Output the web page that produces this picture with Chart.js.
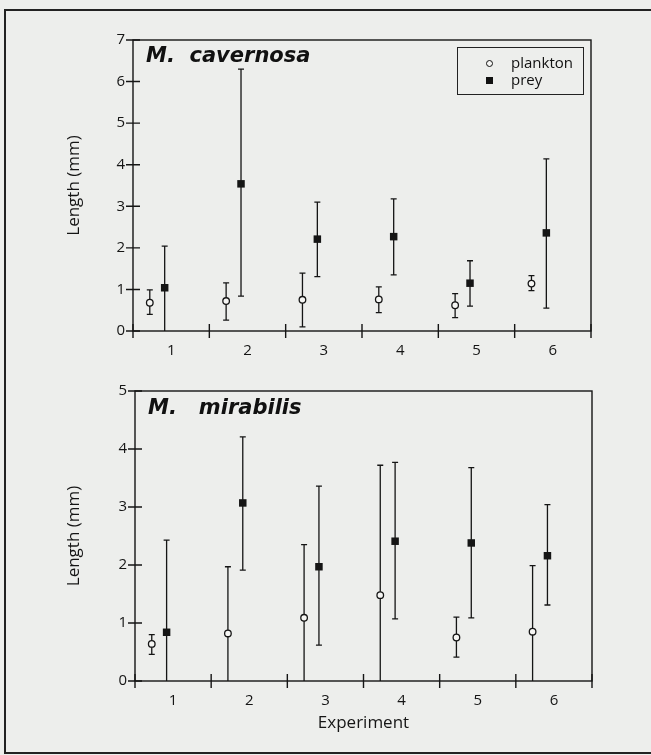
<!DOCTYPE html>
<html>
<head>
<meta charset="utf-8">
<script src="https://cdn.jsdelivr.net/npm/chart.js@4.4.0/dist/chart.umd.min.js"></script>
<style>
  body { margin: 0; background: #edeeec; font-family: "Open Sans", sans-serif; }
  #page { position: relative; width: 651px; height: 755px; overflow: hidden; }
  #frame { position: absolute; left: 4px; top: 9px; width: 700px; height: 741px;
           border-left: 2px solid #222; border-top: 2px solid #222; border-bottom: 2px solid #222; }
  canvas { position: absolute; left: 0; }
  #topChart { top: 0; }
  #bottomChart { top: 370px; }
  .panel { position: absolute; font-family: "DejaVu Sans", sans-serif; font-weight: bold;
           font-style: italic; font-size: 21px; color: #111; white-space: pre; }
  #legend { position: absolute; left: 457px; top: 47px; width: 125px; height: 46px;
            border: 1px solid #222; font-size: 15px; color: #111; }
  #legend .row { position: absolute; left: 53px; line-height: 17px; }
  #legend .mk { position: absolute; box-sizing: border-box; }
</style>
</head>
<body>
<div id="page">
  <div id="frame"></div>
  <canvas id="topChart" width="651" height="370"></canvas>
  <canvas id="bottomChart" width="651" height="385"></canvas>
  <div class="panel" style="left:146px; top:43px;">M.  cavernosa</div>
  <div class="panel" style="left:148px; top:395px;">M.   mirabilis</div>
  <div id="legend">
    <div class="mk" style="left:28px; top:12px; width:7px; height:7px; border:1.3px solid #111; border-radius:50%; background:#f6f6f4;"></div>
    <div class="row" style="top:6px;">plankton</div>
    <div class="mk" style="left:28px; top:29px; width:7px; height:7px; background:#111;"></div>
    <div class="row" style="top:23px;">prey</div>
  </div>
</div>
<script>
const experiments = ['1', '2', '3', '4', '5', '6'];

// M. cavernosa
const cavPlankton = [0.68, 0.72, 0.75, 0.76, 0.62, 1.14];
const cavPlanktonLow = [0.40, 0.26, 0.10, 0.44, 0.32, 0.97];
const cavPlanktonHigh = [0.99, 1.16, 1.39, 1.06, 0.90, 1.33];
const cavPrey = [1.04, 3.54, 2.21, 2.27, 1.15, 2.36];
const cavPreyLow = [0.00, 0.84, 1.31, 1.35, 0.60, 0.55];
const cavPreyHigh = [2.04, 6.30, 3.10, 3.18, 1.69, 4.14];

// M. mirabilis
const mirPlankton = [0.64, 0.82, 1.09, 1.48, 0.75, 0.85];
const mirPlanktonLow = [0.46, 0.00, 0.00, 0.00, 0.41, 0.00];
const mirPlanktonHigh = [0.80, 1.97, 2.35, 3.72, 1.10, 1.99];
const mirPrey = [0.84, 3.07, 1.97, 2.41, 2.38, 2.16];
const mirPreyLow = [0.00, 1.91, 0.62, 1.07, 1.09, 1.31];
const mirPreyHigh = [2.43, 4.21, 3.36, 3.77, 3.68, 3.04];

const topYMax = 7;
const bottomYMax = 5;

const INK = '#151515';
const PLANKTON_SHIFT = -0.28;
const PREY_SHIFT = -0.085;

function points(values, shift) {
  return values.map(function(v, i) { return { x: i + 1 + shift, y: v }; });
}

// error bars with small caps, drawn under the markers
const errorBars = {
  id: 'errorBars',
  beforeDatasetsDraw(chart) {
    const ctx = chart.ctx;
    const xs = chart.scales.x, ys = chart.scales.y;
    ctx.save();
    ctx.strokeStyle = INK;
    ctx.lineWidth = 1.3;
    chart.data.datasets.forEach(function(ds) {
      ds.data.forEach(function(p, i) {
        const x = xs.getPixelForValue(p.x);
        const lo = ys.getPixelForValue(ds.errLow[i]);
        const hi = ys.getPixelForValue(ds.errHigh[i]);
        ctx.beginPath();
        ctx.moveTo(x, lo); ctx.lineTo(x, hi);
        ctx.moveTo(x - 3, hi); ctx.lineTo(x + 3, hi);
        if (ds.errLow[i] > 0) { ctx.moveTo(x - 3, lo); ctx.lineTo(x + 3, lo); }
        ctx.stroke();
      });
    });
    ctx.restore();
  }
};

// closed frame and tick marks that cross the axes
const frameTicks = {
  id: 'frameTicks',
  afterDraw(chart) {
    const ctx = chart.ctx;
    const a = chart.chartArea;
    const xs = chart.scales.x, ys = chart.scales.y;
    ctx.save();
    ctx.strokeStyle = INK;
    ctx.lineWidth = 1.4;
    ctx.strokeRect(a.left, a.top, a.right - a.left, a.bottom - a.top);
    ctx.beginPath();
    xs.ticks.forEach(function(t) {
      if (t.value % 1 === 0) return;
      const x = xs.getPixelForValue(t.value);
      ctx.moveTo(x, a.bottom - 7); ctx.lineTo(x, a.bottom + 7);
    });
    ys.ticks.forEach(function(t) {
      const y = ys.getPixelForValue(t.value);
      ctx.moveTo(a.left - 7, y); ctx.lineTo(a.left + 7, y);
    });
    ctx.stroke();
    ctx.restore();
  }
};

function makeChart(id, yMax, plankton, pLow, pHigh, prey, qLow, qHigh, opts) {
  const tickFont = { family: 'Open Sans', size: 15 };
  return new Chart(document.getElementById(id), {
    type: 'scatter',
    data: {
      datasets: [{
        label: 'plankton',
        data: points(plankton, PLANKTON_SHIFT),
        errLow: pLow, errHigh: pHigh,
        pointStyle: 'circle',
        pointRadius: 3.3,
        pointBorderWidth: 1.3,
        pointBorderColor: INK,
        pointBackgroundColor: '#f6f6f4'
      }, {
        label: 'prey',
        data: points(prey, PREY_SHIFT),
        errLow: qLow, errHigh: qHigh,
        pointStyle: 'rect',
        pointRadius: 5.3,
        pointBorderWidth: 0,
        pointBorderColor: INK,
        pointBackgroundColor: INK
      }]
    },
    options: {
      responsive: false,
      animation: false,
      events: [],
      layout: { padding: opts.padding },
      plugins: { legend: { display: false }, tooltip: { enabled: false } },
      scales: {
        x: {
          type: 'linear',
          min: 0.5,
          max: 6.5,
          afterFit: function(s) { s.height = opts.xHeight; },
          afterBuildTicks: function(s) {
            const t = [];
            for (let v = 0.5; v <= 6.5; v += 0.5) t.push({ value: v });
            s.ticks = t;
          },
          ticks: {
            autoSkip: false,
            maxRotation: 0,
            padding: 11,
            color: INK,
            font: tickFont,
            callback: function(v) { return v % 1 === 0 ? experiments[v - 1] : ''; }
          },
          grid: { display: true, drawOnChartArea: false, drawTicks: false },
          border: { display: false },
          title: opts.xTitle
        },
        y: {
          min: 0,
          max: yMax,
          afterFit: function(s) { s.width = opts.yWidth; },
          ticks: { stepSize: 1, padding: 8, color: INK, font: tickFont },
          grid: { display: true, drawOnChartArea: false, drawTicks: false },
          border: { display: false },
          title: {
            display: true,
            text: 'Length (mm)',
            color: INK,
            font: { family: 'Open Sans', size: 17 },
            padding: { top: 64, bottom: 0 }
          }
        }
      }
    },
    plugins: [errorBars, frameTicks]
  });
}

makeChart('topChart', topYMax, cavPlankton, cavPlanktonLow, cavPlanktonHigh,
  cavPrey, cavPreyLow, cavPreyHigh, {
    padding: { left: 0, right: 60, top: 40, bottom: 0 },
    xHeight: 39,
    yWidth: 133,
    xTitle: { display: false }
  });

makeChart('bottomChart', bottomYMax, mirPlankton, mirPlanktonLow, mirPlanktonHigh,
  mirPrey, mirPreyLow, mirPreyHigh, {
    padding: { left: 0, right: 59, top: 21, bottom: 0 },
    xHeight: 74,
    yWidth: 135,
    xTitle: {
      display: true,
      text: 'Experiment',
      color: INK,
      font: { family: 'Open Sans', size: 17 },
      padding: { top: 0, bottom: 22 }
    }
  });
</script>
</body>
</html>
